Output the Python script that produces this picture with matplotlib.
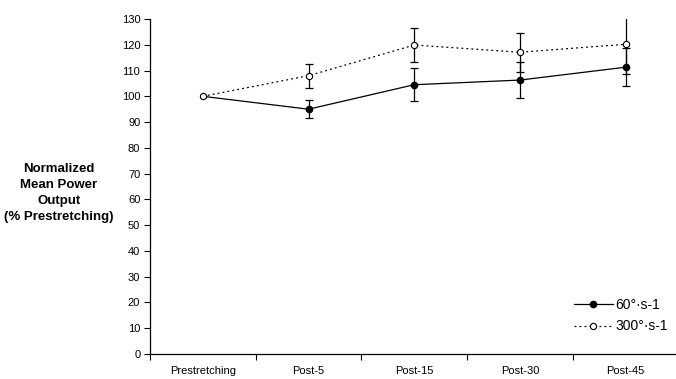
import matplotlib.pyplot as plt
from matplotlib.lines import Line2D

plt.rcParams['font.family'] = ['Liberation Sans', 'DejaVu Sans']

# Data
categories = ['Prestretching', 'Post-5', 'Post-15', 'Post-30', 'Post-45']
power_60 = [100, 95.0, 104.5, 106.3, 111.3]
err_60 = [0, 3.6, 6.3, 7.0, 7.4]
power_300 = [100, 108.0, 119.9, 117.1, 120.2]
err_300 = [0, 4.7, 6.5, 7.6, 11.5]

fig = plt.figure(figsize=(6.76, 3.79), dpi=100)
ax = fig.add_axes([150 / 676, 25 / 379, 528.5 / 676, 335 / 379])

x = list(range(len(categories)))

# 300 deg/s: dotted line, open circles
ax.plot(x, power_300, color='black', lw=0.9, ls=(0, (1.5, 2.5)), zorder=2)
ax.errorbar(x[1:], power_300[1:], yerr=err_300[1:], fmt='none', ecolor='black',
            elinewidth=0.9, capsize=3, capthick=0.9, zorder=2)
ax.plot(x, power_300, ls='none', marker='o', ms=4.5, mfc='white', mec='black', mew=0.8, zorder=3)

# 60 deg/s: solid line, filled circles
ax.plot(x, power_60, color='black', lw=0.9, zorder=2)
ax.errorbar(x[1:], power_60[1:], yerr=err_60[1:], fmt='none', ecolor='black',
            elinewidth=0.9, capsize=3, capthick=0.9, zorder=2)
ax.plot(x[1:], power_60[1:], ls='none', marker='o', ms=4.5, mfc='black', mec='black', zorder=4)

ax.set_xlim(-0.5, len(categories) - 0.5)
ax.set_ylim(0, 130)
ax.set_yticks(range(0, 131, 10))
ax.set_xticks(x)
ax.set_xticklabels(categories)
ax.set_xticks([i - 0.5 for i in range(len(categories) + 1)], minor=True)
ax.tick_params(axis='x', which='major', length=0, pad=9, labelsize=8)
ax.tick_params(axis='x', which='minor', length=4, width=0.8, direction='out')
ax.tick_params(axis='y', length=4, width=0.8, direction='out', labelsize=8, pad=3)

for side in ['top', 'right']:
    ax.spines[side].set_visible(False)
for side in ['left', 'bottom']:
    ax.spines[side].set_linewidth(0.9)

fig.text(59 / 676, 1 - 193 / 379, 'Normalized\nMean Power\nOutput\n(% Prestretching)',
         ha='center', va='center', fontsize=9.5, fontweight='bold', linespacing=1.48)

handles = [
    Line2D([], [], color='black', lw=0.9, marker='o', ms=4.5, mfc='black'),
    Line2D([], [], color='black', lw=0.9, ls=(0, (1.5, 2.5)), marker='o', ms=4.5,
           mfc='white', mec='black', mew=0.8),
]
ax.legend(handles, ['60°·s-1', '300°·s-1'], loc='lower right', frameon=False,
          fontsize=10, handlelength=2.8, handletextpad=0.15, labelspacing=0.55,
          bbox_to_anchor=((673 - 150) / 528.5, 0.045), borderaxespad=0)

fig.savefig('out.png', dpi=100)
